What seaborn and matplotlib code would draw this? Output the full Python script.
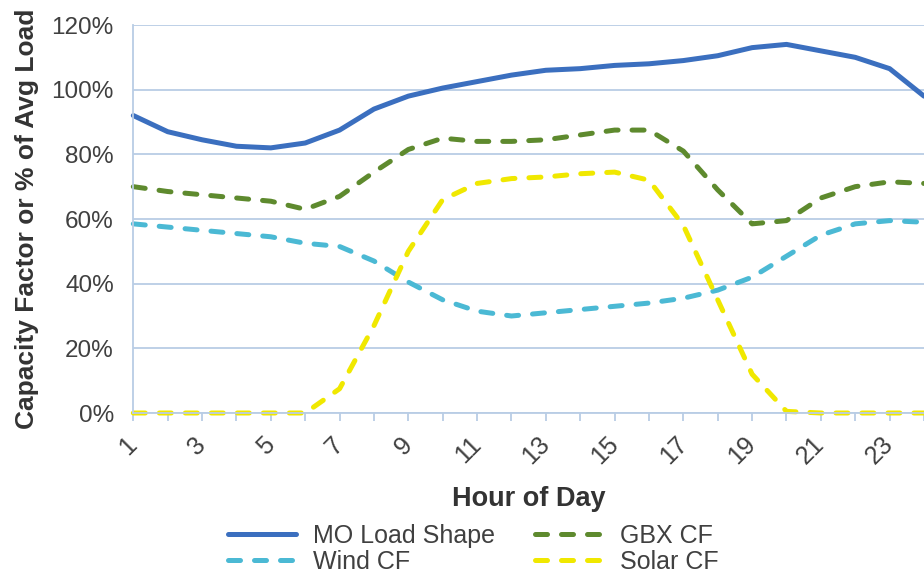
import pandas as pd
import matplotlib.pyplot as plt
import seaborn as sns
from matplotlib.ticker import PercentFormatter

hours = list(range(1, 25))
mo_load = [92, 87, 84.5, 82.5, 82, 83.5, 87.5, 94, 98, 100.5, 102.5, 104.5,
           106, 106.5, 107.5, 108, 109, 110.5, 113, 114, 112, 110, 106.5, 98]
gbx_cf = [70, 68.5, 67.5, 66.5, 65.5, 63, 67, 74.5, 81.5, 85, 84, 84,
          84.5, 86, 87.5, 87.5, 81, 69, 58.5, 59.5, 66.5, 70, 71.5, 71]
wind_cf = [58.5, 57.5, 56.5, 55.5, 54.5, 52.5, 51.5, 47, 40.5, 35, 31.5, 30,
           31, 32, 33, 34, 35.5, 38, 42, 48.5, 55, 58.5, 59.5, 59]
solar_cf = [0, 0, 0, 0, 0, 0, 7.5, 27, 50, 66, 71, 72.5,
            73, 74, 74.5, 72, 58, 35, 12, 0.5, 0, 0, 0, 0]

series_names = ['MO Load Shape', 'GBX CF', 'Wind CF', 'Solar CF']
colors = {'MO Load Shape': '#3B6FBF', 'GBX CF': '#5E8A2E',
          'Wind CF': '#4BB9D4', 'Solar CF': '#F0E800'}
dash_map = {'MO Load Shape': '', 'GBX CF': (2.4, 2.8),
            'Wind CF': (2.4, 2.8), 'Solar CF': (2.4, 2.8)}

df = pd.concat([
    pd.DataFrame({'Hour': hours, 'Value': vals, 'Series': name})
    for name, vals in zip(series_names, [mo_load, gbx_cf, wind_cf, solar_cf])
])

sns.set_theme(style='white')
plt.rcParams['font.family'] = ['Liberation Sans', 'DejaVu Sans']
text_col = '#404040'
grid_col = '#B9CDE5'

fig = plt.figure(figsize=(9.24, 5.78), dpi=100)
ax = fig.add_axes([133.3 / 924, 165 / 578, 1 - 133.3 / 924, 388 / 578])
sns.lineplot(data=df, x='Hour', y='Value', hue='Series', style='Series',
             palette=colors, dashes=dash_map, linewidth=3.6, ax=ax,
             dash_capstyle='round', solid_capstyle='round', clip_on=False)

ax.set_xlim(1, 23.94)
ax.set_ylim(0, 120)
ax.set_yticks(range(0, 121, 20))
ax.yaxis.set_major_formatter(PercentFormatter(decimals=0))
ax.set_xticks(hours)
ax.set_xticklabels([str(h) if h % 2 == 1 else '' for h in hours])
ax.grid(axis='y', color=grid_col, linewidth=1.3)
ax.set_axisbelow(True)
for s in ['top', 'right']:
    ax.spines[s].set_visible(False)
for s in ['left', 'bottom']:
    ax.spines[s].set_color(grid_col)
    ax.spines[s].set_linewidth(1.3)

ax.tick_params(axis='y', length=0, pad=14, labelsize=17.5, labelcolor=text_col)
ax.tick_params(axis='x', bottom=True, length=6, width=1.3, color=grid_col,
               pad=14, labelsize=18, labelcolor=text_col)
plt.setp(ax.get_xticklabels(), rotation=45, ha='right', va='center',
         rotation_mode='anchor')

ax.set_xlabel('Hour of Day', fontsize=19.5, fontweight='bold', color='#333333', labelpad=12)
ax.set_ylabel('Capacity Factor or % of Avg Load', fontsize=19, fontweight='bold',
              color='#333333', labelpad=9)

handles, labels = ax.get_legend_handles_labels()
ax.get_legend().remove()
order = ['MO Load Shape', 'Wind CF', 'GBX CF', 'Solar CF']
hmap = dict(zip(labels, handles))
fig.legend([hmap[k] for k in order], order, ncol=2, loc='center',
           bbox_to_anchor=(0.5125, 0.05), frameon=False, fontsize=18,
           labelcolor=text_col, handlelength=2.7, handletextpad=0.7,
           columnspacing=1.6, labelspacing=0.08, borderpad=0.1)

fig.savefig('out.png', dpi=100)
